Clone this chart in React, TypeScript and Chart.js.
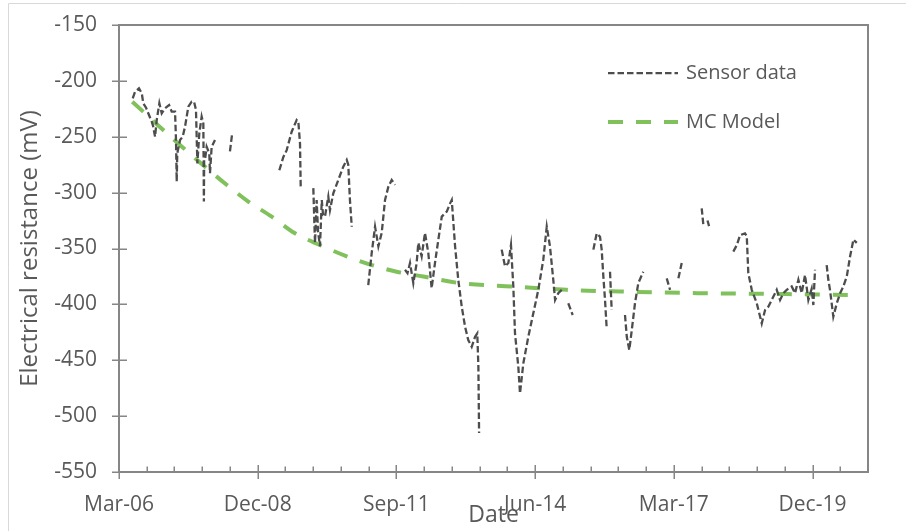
import React, { useEffect, useRef } from 'react';
import { Chart, registerables } from 'chart.js';

Chart.register(...registerables);

// x values are days counted from the first axis tick (Mar-06)
const xTickLabels = ['Mar-06', 'Dec-08', 'Sep-11', 'Jun-14', 'Mar-17', 'Dec-19'];
const xTickDays = [0, 1000, 2000, 3000, 4000, 5000];

const sensorDays = [
  99, 115, 144, 164, 175, 195, 211, 236, 245, 260, 272, 291, 308, 332, 361, 380, 404, 411, 416, 420,
  440, 459, 476, 500, 524, 541, 555, 560, 565, 579, 596, 608, 610, 612, 614, 620, 632, 651, 656, 668, 692,
  700,
  800, 815,
  900,
  1156, 1185, 1209, 1245, 1281, 1293, 1305, 1310,
  1350,
  1401, 1413, 1425, 1435, 1449, 1462, 1471, 1485, 1500, 1509, 1521, 1545, 1581, 1617, 1642, 1653, 1665, 1678,
  1740,
  1797, 1822, 1846, 1870, 1894, 1918, 1942, 1966, 1990,
  2030,
  2062, 2080, 2098, 2122, 2146, 2158, 2182, 2206, 2230, 2254, 2278, 2302, 2327, 2363, 2387, 2399, 2423,
  2446, 2471, 2495, 2518, 2531, 2543, 2567, 2583, 2591, 2596,
  2680,
  2759, 2783, 2807, 2826, 2843, 2855, 2879, 2891, 2915, 2951, 2987, 3023, 3059, 3084, 3107, 3131, 3144, 3167, 3192,
  3215,
  3239, 3271,
  3350,
  3420, 3444, 3468, 3480, 3492, 3504, 3516,
  3528,
  3540, 3552,
  3600,
  3648, 3661, 3679, 3697, 3720, 3744, 3780,
  3860,
  3949, 3973,
  4000,
  4033, 4057,
  4130,
  4201, 4213,
  4230,
  4243, 4254,
  4340,
  4429, 4454, 4478, 4513, 4526, 4537, 4562, 4598, 4634, 4658, 4682, 4718, 4742, 4766, 4790, 4814, 4850,
  4874, 4898, 4922, 4946, 4970, 4994, 5006, 5018,
  5060,
  5102, 5114, 5126, 5150, 5175, 5199, 5222, 5247, 5271, 5295, 5319,
];

const sensorMv: (number | null)[] = [
  -215.6, -210, -206.7, -211, -220, -224, -229, -236.5, -240, -250, -235, -220, -229, -224.5, -221.6, -227.6, -227.6, -253, -290, -265,
  -253, -250, -241, -223, -218.6, -218.6, -226, -250, -273.8, -247, -232, -238, -271, -308, -271, -270.8, -259, -265, -282.7, -259, -253,
  null,
  -263, -248,
  null,
  -280, -268, -262, -245.5, -235, -236.5, -256, -294.7,
  null,
  -296, -345, -306.6, -335, -348, -306.6, -320, -321.5, -310, -303.6, -315.6, -300.6, -288.7, -276.8, -270.8, -275, -306.6, -330.5,
  null,
  -382.7, -354, -330.5, -348, -336, -306.6, -294.7, -288.7, -293,
  null,
  -369, -372, -363, -381, -363, -345, -357, -336, -354, -385.6, -363, -342.4, -321.5, -317, -309.6, -306.6, -348,
  -378, -402, -420, -432, -435, -438, -429, -426, -455.8, -515,
  null,
  -351, -366, -363, -347, -384, -426, -455.8, -479.7, -452.8, -429, -408, -387, -360, -330.5, -348, -378, -396, -390, -387,
  null,
  -399, -409.5,
  null,
  -351, -336.5, -339.5, -351, -375, -396, -421.4,
  null,
  -370.8, -405,
  null,
  -409.5, -429, -440.8, -423, -399, -381, -370.8,
  null,
  -376.7, -387,
  null,
  -376.7, -363,
  null,
  -314, -329,
  null,
  -325, -330,
  null,
  -352.8, -347, -338, -336.5, -339, -372, -387, -399, -417, -405, -402, -393, -387, -396, -390, -387, -384,
  -390, -378, -390, -373.7, -396, -386, -400.6, -369,
  null,
  -364.8, -378, -387, -411, -399, -390, -384, -375, -357, -342, -345,
];

const modelDays = [96, 319, 464, 620, 776, 932, 1101, 1269, 1449, 1642, 1822, 2002, 2194, 2459, 2843, 3228, 3612, 4189, 4622, 5271];
const modelMv = [-218.6, -244, -260, -276.8, -293, -308, -321.5, -336.4, -346.9, -357, -364.8, -370.8, -375, -381, -384, -387, -388.5, -390, -390.5, -391.6];

const seriesNames = ['Sensor data', 'MC Model'];
const yTitle = 'Electrical resistance (mV)';
const xTitle = 'Date';

const FONT = "'Open Sans', sans-serif";
const TEXT = '#595959';
const AXIS = '#868686';
const SENSOR_COLOR = '#4d4d4d';
const MODEL_COLOR = '#80c15c';

const decorPlugin = {
  id: 'decor',
  beforeDatasetsDraw(chart: any) {
    const { ctx, chartArea: a, scales } = chart;
    ctx.save();
    // outer chart border (left/top visible)
    ctx.strokeStyle = '#d9d9d9';
    ctx.lineWidth = 1;
    ctx.beginPath();
    ctx.moveTo(8.5, chart.height);
    ctx.lineTo(8.5, 3.5);
    ctx.lineTo(chart.width, 3.5);
    ctx.stroke();

    ctx.strokeStyle = AXIS;
    ctx.lineWidth = 2;
    ctx.strokeRect(a.left, a.top, a.right - a.left, a.bottom - a.top);

    ctx.lineWidth = 1.5;
    ctx.beginPath();
    for (const t of scales.y.ticks) {
      const py = Math.round(scales.y.getPixelForValue(t.value)) + 0.25;
      ctx.moveTo(a.left - 7, py);
      ctx.lineTo(a.left + 8, py);
    }
    for (const t of scales.x.ticks) {
      const px = Math.round(scales.x.getPixelForValue(t.value)) + 0.25;
      ctx.moveTo(px, a.bottom - 7);
      ctx.lineTo(px, a.bottom + 7);
    }
    const xmin = scales.x.min;
    const xmax = scales.x.max;
    for (let v = xmin; v < xmax; v += 200) {
      if (v % 1000 === 0) continue;
      const px = Math.round(scales.x.getPixelForValue(v)) + 0.25;
      ctx.moveTo(px, a.bottom - 5.5);
      ctx.lineTo(px, a.bottom);
    }
    ctx.stroke();
    ctx.restore();
  },
  afterDraw(chart: any) {
    const { ctx } = chart;
    ctx.save();
    const x0 = 608;
    const x1 = 678;
    const rows = [
      { y: 73, color: SENSOR_COLOR, width: 2.25, dash: [6.5, 3], label: seriesNames[0] },
      { y: 122, color: MODEL_COLOR, width: 4, dash: [15, 13], label: seriesNames[1] },
    ];
    for (const r of rows) {
      ctx.strokeStyle = r.color;
      ctx.lineWidth = r.width;
      ctx.setLineDash(r.dash);
      ctx.beginPath();
      ctx.moveTo(x0, r.y);
      ctx.lineTo(x1, r.y);
      ctx.stroke();
      ctx.setLineDash([]);
      ctx.fillStyle = TEXT;
      ctx.font = `20px ${FONT}`;
      ctx.textBaseline = 'middle';
      ctx.textAlign = 'left';
      ctx.fillText(r.label, 686, r.y);
    }
    ctx.restore();
  },
};

export default function App() {
  const ref = useRef<HTMLCanvasElement | null>(null);

  useEffect(() => {
    document.body.style.margin = '0';
    const canvas = ref.current;
    if (!canvas) return;
    const sensorPoints = sensorDays.map((d, i) => ({ x: d, y: sensorMv[i] }));
    const modelPoints = modelDays.map((d, i) => ({ x: d, y: modelMv[i] }));

    const chart = new Chart(canvas, {
      type: 'line',
      data: {
        datasets: [
          {
            label: seriesNames[0],
            data: sensorPoints as any,
            borderColor: SENSOR_COLOR,
            borderWidth: 2.3,
            borderDash: [6.5, 3],
            pointRadius: 0,
            tension: 0,
            spanGaps: false,
            fill: false,
          },
          {
            label: seriesNames[1],
            data: modelPoints as any,
            borderColor: MODEL_COLOR,
            borderWidth: 4,
            borderDash: [15, 13],
            pointRadius: 0,
            cubicInterpolationMode: 'monotone',
            fill: false,
          },
        ],
      },
      options: {
        animation: false,
        responsive: false,
        maintainAspectRatio: false,
        layout: { padding: { top: 25, right: 38, left: 0, bottom: 0 } },
        plugins: {
          legend: { display: false },
          tooltip: { enabled: false },
        },
        scales: {
          x: {
            type: 'linear',
            min: 0,
            max: 5400,
            grid: { display: false, drawTicks: false },
            border: { display: false },
            afterBuildTicks: (scale: any) => {
              scale.ticks = xTickDays.map((v) => ({ value: v }));
            },
            ticks: {
              autoSkip: false,
              maxRotation: 0,
              padding: 20,
              color: TEXT,
              font: { family: FONT, size: 21 },
              callback: (value: any) => {
                const i = xTickDays.indexOf(Number(value));
                return i >= 0 ? xTickLabels[i] : '';
              },
            },
            title: {
              display: true,
              text: xTitle,
              color: TEXT,
              font: { family: FONT, size: 23 },
              padding: { top: 0, bottom: 2 },
            },
            afterFit: (scale: any) => {
              scale.height = 59;
              scale.paddingLeft = 0;
              scale.paddingRight = 0;
            },
          },
          y: {
            min: -550,
            max: -150,
            grid: { display: false, drawTicks: false },
            border: { display: false },
            ticks: {
              stepSize: 50,
              padding: 22,
              color: TEXT,
              font: { family: FONT, size: 21 },
            },
            title: {
              display: true,
              text: yTitle,
              color: TEXT,
              font: { family: FONT, size: 24 },
              padding: 16,
            },
            afterFit: (scale: any) => {
              scale.width = 119;
              scale.paddingTop = 0;
              scale.paddingBottom = 0;
            },
          },
        },
      },
      plugins: [decorPlugin],
    });
    return () => chart.destroy();
  }, []);

  return (
    <div style={{ position: 'fixed', left: 0, top: 0, width: 906, height: 531, background: '#fff' }}>
      <canvas ref={ref} width={906} height={531} style={{ display: 'block', width: 906, height: 531 }} />
    </div>
  );
}
